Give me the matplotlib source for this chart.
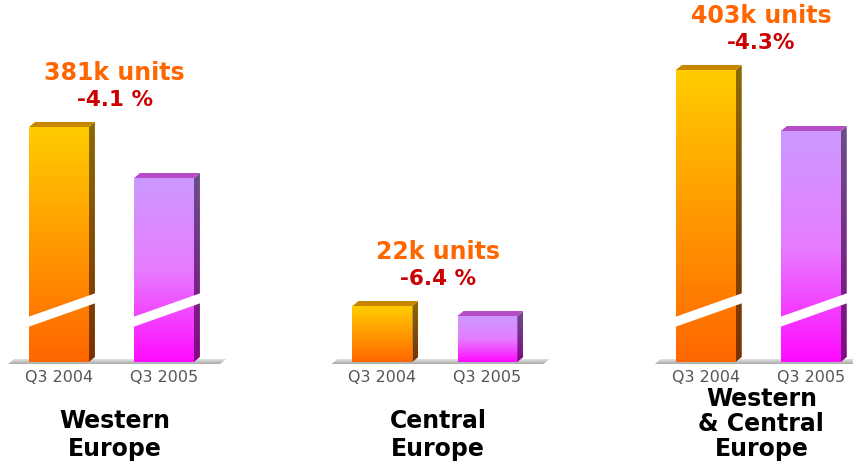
import numpy as np
import matplotlib.pyplot as plt
from matplotlib.colors import LinearSegmentedColormap
from matplotlib.patches import Polygon

# values (bar heights, axis is broken so arbitrary units)
regions = ['Western\nEurope', 'Central\nEurope', 'Western\n& Central\nEurope']
periods = ['Q3 2004', 'Q3 2005']
bar_2004 = [235, 56, 292]
bar_2005 = [184, 46, 231]
units_2005 = ['381k units', '22k units', '403k units']
change = ['-4.1 %', '-6.4 %', '-4.3%']

# colours: front gradient (bottom -> top), side gradient, top face
front_cm = [LinearSegmentedColormap.from_list('o', ['#FF6600', '#FF9900', '#FFCC00']),
            LinearSegmentedColormap.from_list('m', ['#FF0AFF', '#E67CFF', '#CC99FF'])]
side_cm = [LinearSegmentedColormap.from_list('os', ['#7A3000', '#8C6A00']),
           LinearSegmentedColormap.from_list('ms', ['#820A82', '#6A4E8A'])]
top_col = ['#C88600', '#B64CC6']
floor_cm = LinearSegmentedColormap.from_list('f', ['#A8A8A8', '#E4E4E4'])

fig = plt.figure(figsize=(8.54, 4.64), dpi=100)
ax = fig.add_axes([0, 0, 1, 1])

group_x = np.arange(3) * 3.08
width = 0.57
dx, dy = 0.057, 5


def shade(x0, x1, y0, y1, cmap, clip=None, z=2):
    grad = np.linspace(0, 1, 256).reshape(-1, 1)
    im = ax.imshow(grad, extent=[x0, x1, y0, y1], origin='lower', cmap=cmap,
                   aspect='auto', interpolation='bicubic', zorder=z)
    if clip is not None:
        im.set_clip_path(clip)


for g, gx in enumerate(group_x):
    heights = [bar_2004[g], bar_2005[g]]
    # floor shadow
    xl, xr = gx - width / 2 - 0.2, gx + 1 + width / 2 + 0.25
    floor = Polygon([(xl, -2), (xr, -2), (xr + dx, 3), (xl + dx, 3)],
                    closed=True, fc='none', ec='none')
    ax.add_patch(floor)
    shade(xl, xr + dx, -2, 3, floor_cm, clip=floor, z=1)
    for i, h in enumerate(heights):
        xc = gx + i
        x0, x1 = xc - width / 2, xc + width / 2
        shade(x0, x1, 0, h, front_cm[i])
        side = Polygon([(x1, 0), (x1 + dx, dy), (x1 + dx, h + dy), (x1, h)],
                       closed=True, fc='none', ec='none')
        ax.add_patch(side)
        shade(x1, x1 + dx, 0, h + dy, side_cm[i], clip=side)
        ax.add_patch(Polygon([(x0, h), (x1, h), (x1 + dx, h + dy), (x0 + dx, h + dy)],
                             closed=True, fc=top_col[i], ec='none', zorder=3))
        # white break stripe on the tall bars
        if h > 150:
            ax.add_patch(Polygon([(x0 - 0.01, 35), (x1 + dx + 0.01, 59),
                                  (x1 + dx + 0.01, 69), (x0 - 0.01, 45)],
                                 closed=True, fc='white', ec='none', zorder=5))
        ax.text(xc, -15, periods[i], ha='center', va='center',
                fontsize=11.5, color='#555555')

    mid = gx + 0.5 + dx / 2
    top = max(heights)
    ax.text(mid, top + 55, units_2005[g], ha='center', va='center',
            fontsize=17, fontweight='bold', color='#FF6600')
    ax.text(mid, top + 28, change[g], ha='center', va='center',
            fontsize=15.5, fontweight='bold', color='#CC0000')
    ls = 1.05 if regions[g].count('\n') > 1 else 1.2
    ax.text(mid, -98, regions[g], ha='center', va='bottom', fontsize=17,
            fontweight='bold', color='black', linespacing=ls)

ax.set_xlim(-0.562, 7.571)
ax.set_ylim(-101, 363)
ax.axis('off')

fig.savefig('out.png', dpi=100, facecolor='white')
